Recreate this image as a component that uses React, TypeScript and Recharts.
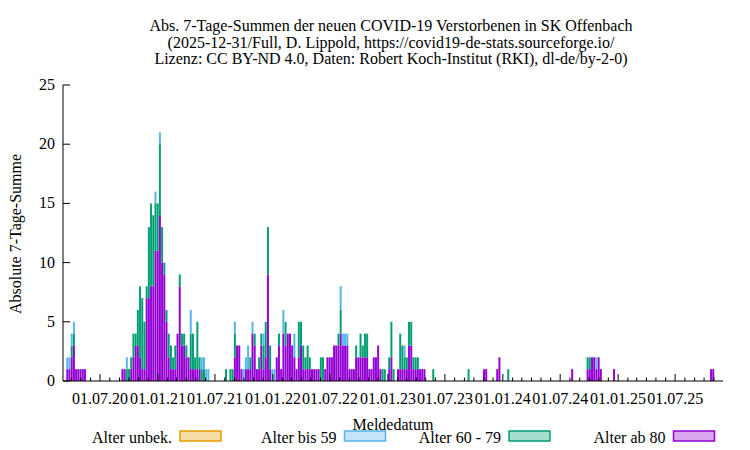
import React from "react";
import { ComposedChart, Bar, XAxis, YAxis } from "recharts";

// ISO reporting weeks with at least one death (7-day sums)
const weeks = [
  // 2020
  "2020-W12", "2020-W13", "2020-W14", "2020-W15", "2020-W16", "2020-W17", "2020-W18", "2020-W19", "2020-W20",
  "2020-W37", "2020-W38", "2020-W39", "2020-W40", "2020-W41", "2020-W42", "2020-W43", "2020-W44", "2020-W45",
  "2020-W46", "2020-W47", "2020-W48", "2020-W49", "2020-W50", "2020-W51", "2020-W52", "2020-W53",
  // 2021
  "2021-W01", "2021-W02", "2021-W03", "2021-W04", "2021-W05", "2021-W06", "2021-W07", "2021-W08", "2021-W09",
  "2021-W10", "2021-W11", "2021-W12", "2021-W13", "2021-W14", "2021-W15", "2021-W16", "2021-W17", "2021-W18",
  "2021-W19", "2021-W20", "2021-W21", "2021-W22", "2021-W23",
  "2021-W31", "2021-W33", "2021-W34", "2021-W35", "2021-W36", "2021-W37", "2021-W38", "2021-W39", "2021-W40",
  "2021-W41", "2021-W42", "2021-W43", "2021-W44", "2021-W45", "2021-W46", "2021-W47", "2021-W48", "2021-W49",
  "2021-W50", "2021-W51", "2021-W52",
  // 2022
  "2022-W01", "2022-W02", "2022-W03", "2022-W04", "2022-W05", "2022-W06", "2022-W07", "2022-W08", "2022-W09",
  "2022-W10", "2022-W11", "2022-W12", "2022-W13", "2022-W14", "2022-W15", "2022-W16", "2022-W17", "2022-W18",
  "2022-W19", "2022-W20", "2022-W21", "2022-W22", "2022-W23", "2022-W24", "2022-W25", "2022-W26", "2022-W27",
  "2022-W28", "2022-W29", "2022-W30", "2022-W31", "2022-W32", "2022-W33", "2022-W34", "2022-W35", "2022-W36",
  "2022-W37", "2022-W38", "2022-W39", "2022-W40", "2022-W41", "2022-W42", "2022-W43", "2022-W44", "2022-W45",
  "2022-W46", "2022-W47", "2022-W48", "2022-W49", "2022-W50", "2022-W51",
  // 2023
  "2023-W01", "2023-W02", "2023-W03", "2023-W05", "2023-W06", "2023-W07", "2023-W08", "2023-W09", "2023-W10",
  "2023-W11", "2023-W12", "2023-W13", "2023-W14", "2023-W15", "2023-W16", "2023-W17", "2023-W21", "2023-W37",
  "2023-W44", "2023-W45", "2023-W50", "2023-W51",
  // 2024
  "2024-W03", "2024-W32", "2024-W39", "2024-W40", "2024-W41", "2024-W42", "2024-W43", "2024-W44", "2024-W45",
  "2024-W51",
  // 2025
  "2025-W43", "2025-W44",
];

const ab80 = [
  1, 1, 2, 3, 1, 1, 1, 1, 1,
  1, 1, 0, 0, 1, 2, 3, 3, 2,
  1, 1, 7, 7, 8, 8, 11, 11,
  14, 10, 9, 5, 2, 1, 1, 1, 4,
  8, 3, 3, 2, 2, 1, 1, 1, 1,
  1, 0, 0, 0, 0,
  0, 0, 0, 2, 3, 3, 1, 0, 1,
  1, 1, 4, 3, 1, 1, 3, 1, 2,
  9, 1, 0,
  0, 2, 3, 1, 4, 3, 4, 4, 3,
  2, 1, 2, 3, 1, 1, 1, 1, 1,
  1, 1, 1, 0, 0, 1, 2, 2, 2,
  3, 3, 3, 4, 3, 3, 3, 1, 1,
  1, 2, 2, 2, 2, 2, 2, 1, 1,
  2, 2, 3, 1, 0, 0,
  1, 2, 0, 1, 1, 1, 1, 1, 3,
  3, 1, 1, 1, 1, 1, 1, 0, 0,
  1, 1, 1, 2,
  0, 1, 1, 1, 2, 2, 1, 2, 1,
  1,
  1, 1,
];

const alter6079 = [
  0, 0, 1, 1, 0, 0, 0, 0, 0,
  0, 0, 1, 1, 1, 2, 1, 3, 6,
  6, 4, 1, 6, 7, 6, 4, 4,
  6, 3, 1, 1, 2, 2, 1, 2, 0,
  1, 1, 1, 1, 0, 3, 3, 1, 4,
  1, 1, 1, 0, 0,
  1, 1, 1, 2, 0, 0, 0, 0, 0,
  0, 1, 0, 1, 0, 1, 1, 2, 3,
  4, 2, 0,
  0, 0, 1, 0, 0, 2, 0, 0, 0,
  0, 0, 3, 2, 2, 1, 2, 1, 0,
  0, 0, 0, 2, 2, 0, 0, 0, 0,
  0, 0, 1, 2, 0, 0, 0, 0, 0,
  0, 1, 0, 2, 1, 2, 2, 0, 0,
  0, 0, 0, 0, 1, 1,
  1, 3, 1, 0, 3, 2, 1, 1, 2,
  2, 1, 1, 1, 0, 0, 0, 1, 1,
  0, 0, 0, 0,
  1, 0, 1, 1, 0, 0, 0, 0, 0,
  0,
  0, 0,
];

const bis59 = [
  1, 1, 1, 1, 0, 0, 0, 0, 0,
  0, 0, 1, 0, 0, 0, 0, 0, 0,
  0, 0, 0, 0, 0, 0, 1, 0,
  1, 0, 0, 0, 0, 0, 0, 0, 0,
  0, 0, 0, 0, 0, 2, 0, 0, 0,
  0, 1, 1, 1, 1,
  0, 0, 0, 1, 0, 0, 0, 1, 1,
  2, 0, 1, 0, 0, 0, 0, 1, 0,
  0, 0, 1,
  1, 0, 0, 0, 2, 0, 0, 0, 0,
  2, 0, 0, 0, 0, 0, 0, 0, 0,
  0, 0, 0, 0, 0, 0, 0, 0, 0,
  0, 0, 0, 2, 1, 1, 1, 0, 0,
  0, 0, 0, 0, 0, 0, 0, 0, 0,
  0, 0, 0, 0, 0, 0,
  0, 0, 0, 0, 0, 0, 1, 0, 0,
  0, 0, 0, 0, 0, 0, 0, 0, 0,
  0, 0, 0, 0,
  0, 0, 0, 0, 0, 0, 1, 0, 0,
  0,
  0, 0,
];

const xTickLabels = [
  "01.07.20", "01.01.21", "01.07.21", "01.01.22", "01.07.22", "01.01.23",
  "01.07.23", "01.01.24", "01.07.24", "01.01.25", "01.07.25",
];
const yTicks = [0, 5, 10, 15, 20, 25];

const titleLines = [
  "Abs. 7-Tage-Summen der neuen COVID-19 Verstorbenen in SK Offenbach",
  "(2025-12-31/Full, D. Lippold, https://covid19-de-stats.sourceforge.io/",
  "Lizenz: CC BY-ND 4.0, Daten: Robert Koch-Institut (RKI), dl-de/by-2-0)",
];

const legendItems = [
  { name: "Alter unbek.", color: "#e69f00" },
  { name: "Alter bis 59", color: "#56b4e9" },
  { name: "Alter 60 - 79", color: "#009e73" },
  { name: "Alter ab 80", color: "#9400d3" },
];

const FONT = "'Liberation Serif', 'Times New Roman', serif";
const DAY = 86400000;
const X_MIN = Date.UTC(2020, 2, 5, 12);
const X_MAX = Date.UTC(2025, 10, 30);

function weekCenter(s: string) {
  const [y, w] = s.split("-W").map(Number);
  const jan4 = Date.UTC(y, 0, 4);
  const dow = (new Date(jan4).getUTCDay() + 6) % 7;
  return jan4 - dow * DAY + (w - 1) * 7 * DAY + 3.5 * DAY;
}

function parseLabel(s: string) {
  const [d, m, y] = s.split(".").map(Number);
  return Date.UTC(2000 + y, m - 1, d);
}

const majorTicks = xTickLabels.map(parseLabel);
const monthTicks: number[] = [];
for (let y = 2020; y <= 2025; y++) {
  for (let m = 0; m < 12; m++) {
    const t = Date.UTC(y, m, 1);
    if (t > X_MIN && t < X_MAX) monthTicks.push(t);
  }
}

const data = weeks.map((w, i) => ({
  t: weekCenter(w),
  ab80: ab80[i],
  alter6079: alter6079[i],
  bis59: bis59[i],
}));

const BottomTick = (p: any) => {
  const idx = majorTicks.indexOf(p.payload.value);
  const major = idx >= 0;
  return (
    <g>
      <line x1={p.x} y1={p.y} x2={p.x} y2={p.y - (major ? 7 : 3.5)} stroke="#000" />
      {major && (
        <text x={p.x} y={p.y + 23} textAnchor="middle" fontSize={16} fontFamily={FONT} fill="#000">
          {xTickLabels[idx]}
        </text>
      )}
    </g>
  );
};

const TopTick = (p: any) => {
  const major = majorTicks.includes(p.payload.value);
  return <line x1={p.x} y1={p.y} x2={p.x} y2={p.y + (major ? 7 : 3.5)} stroke="#000" />;
};

const LeftTick = (p: any) => (
  <g>
    <line x1={p.x} y1={p.y} x2={p.x + 7} y2={p.y} stroke="#000" />
    <text x={p.x - 8} y={p.y + 5} textAnchor="end" fontSize={16} fontFamily={FONT} fill="#000">
      {p.payload.value}
    </text>
  </g>
);

const RightTick = (p: any) => <line x1={p.x} y1={p.y} x2={p.x - 7} y2={p.y} stroke="#000" />;

export default function App() {
  return (
    <div style={{ position: "absolute", left: 0, top: 0, width: 750, height: 450, background: "#fff" }}>
      <ComposedChart width={750} height={450} data={data} margin={{ top: 85, right: 27, bottom: 0, left: 0 }}>
        <XAxis
          xAxisId="b"
          dataKey="t"
          type="number"
          scale="linear"
          domain={[X_MIN, X_MAX]}
          allowDataOverflow
          ticks={monthTicks}
          interval={0}
          height={69}
          tickSize={0}
          tickMargin={0}
          tickLine={false}
          axisLine={{ stroke: "#000" }}
          tick={(p: any) => <BottomTick {...p} />}
        />
        <XAxis
          xAxisId="t"
          orientation="top"
          dataKey="t"
          type="number"
          scale="linear"
          domain={[X_MIN, X_MAX]}
          allowDataOverflow
          ticks={monthTicks}
          interval={0}
          height={0}
          tickSize={0}
          tickMargin={0}
          tickLine={false}
          axisLine={{ stroke: "#000" }}
          tick={(p: any) => <TopTick {...p} />}
        />
        <YAxis
          yAxisId="l"
          domain={[0, 25]}
          ticks={yTicks}
          interval={0}
          width={63}
          tickSize={0}
          tickMargin={0}
          tickLine={false}
          axisLine={{ stroke: "#000" }}
          tick={(p: any) => <LeftTick {...p} />}
        />
        <YAxis
          yAxisId="r"
          orientation="right"
          domain={[0, 25]}
          ticks={yTicks}
          interval={0}
          width={0}
          tickSize={0}
          tickMargin={0}
          tickLine={false}
          axisLine={{ stroke: "#000" }}
          tick={(p: any) => <RightTick {...p} />}
        />
        <Bar xAxisId="b" yAxisId="l" dataKey="ab80" stackId="s" fill="#9400d3" barSize={2.7} isAnimationActive={false} />
        <Bar xAxisId="b" yAxisId="l" dataKey="alter6079" stackId="s" fill="#009e73" barSize={2.7} isAnimationActive={false} />
        <Bar xAxisId="b" yAxisId="l" dataKey="bis59" stackId="s" fill="#56b4e9" barSize={2.7} isAnimationActive={false} />
      </ComposedChart>
      <svg
        width={750}
        height={450}
        style={{ position: "absolute", left: 0, top: 0, pointerEvents: "none" }}
        fontFamily={FONT}
        fontSize={16}
      >
        {titleLines.map((line, i) => (
          <text key={i} x={391} y={31 + i * 16.5} textAnchor="middle" fill="#000">
            {line}
          </text>
        ))}
        <text x={21} y={234} transform="rotate(-90 21 234)" textAnchor="middle" fill="#000">
          Absolute 7-Tage-Summe
        </text>
        <text x={393} y={430} textAnchor="middle" fill="#000">
          Meldedatum
        </text>
        {legendItems.map((it, i) => {
          const bx = 180 + i * 164.5;
          return (
            <g key={it.name}>
              <text x={bx - 8} y={443} textAnchor="end" fill="#000">
                {it.name}
              </text>
              <rect x={bx} y={431} width={41} height={10} fill={it.color} fillOpacity={0.35} stroke={it.color} strokeWidth={1.5} />
            </g>
          );
        })}
      </svg>
    </div>
  );
}
